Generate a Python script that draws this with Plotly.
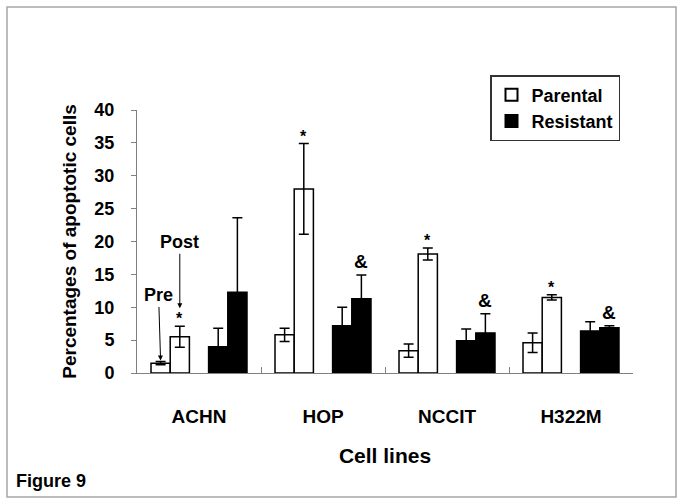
import plotly.graph_objects as go

categories = ["ACHN", "HOP", "NCCIT", "H322M"]
parental_pre = [1.5, 5.8, 3.4, 4.6]
parental_pre_err = [0.25, 1.0, 1.0, 1.5]
parental_post = [5.5, 28.0, 18.1, 11.5]
parental_post_err = [1.6, 6.9, 0.9, 0.4]
resistant_pre = [4.0, 7.2, 4.9, 6.4]
resistant_pre_err = [2.8, 2.8, 1.8, 1.4]
resistant_post = [12.3, 11.3, 6.1, 6.9]
resistant_post_err = [11.3, 3.6, 2.9, 0.3]
star_marks = ["*", "*", "*", "*"]
amp_marks = ["", "&", "&", "&"]
y_ticks = [0, 5, 10, 15, 20, 25, 30, 35, 40]

W, H = 683, 502
ML, MR, MT, MB = 137, 50, 110, 129
PW, PH = W - ML - MR, H - MT - MB
BARGAP = 0.226
NSLOT = 5
cat_px = PW / len(categories)
slot_px = cat_px * (1 - BARGAP) / NSLOT

SANS = "Liberation Sans, Arial"


def px2paper_x(px):
    return (px - ML) / PW


def px2paper_y(py):
    return (H - MB - py) / PH


fig = go.Figure()


def err(arr):
    return dict(type="data", array=arr, symmetric=True, color="black",
                thickness=1.5, width=5, visible=True)


fig.add_trace(go.Bar(x=categories, y=parental_pre, name="Parental",
                     legendgroup="P", showlegend=True,
                     marker=dict(color="white", line=dict(color="black", width=1.5)),
                     error_y=err(parental_pre_err)))
fig.add_trace(go.Bar(x=categories, y=parental_post, name="Parental",
                     legendgroup="P", showlegend=False,
                     marker=dict(color="white", line=dict(color="black", width=1.5)),
                     error_y=err(parental_post_err)))
fig.add_trace(go.Bar(x=categories, y=[None] * len(categories), name="gap",
                     showlegend=False, hoverinfo="skip",
                     marker=dict(color="rgba(0,0,0,0)", line=dict(width=0))))
fig.add_trace(go.Bar(x=categories, y=resistant_pre, name="Resistant",
                     legendgroup="R", showlegend=True,
                     marker=dict(color="black", line=dict(color="black", width=1.5)),
                     error_y=err(resistant_pre_err)))
fig.add_trace(go.Bar(x=categories, y=resistant_post, name="Resistant",
                     legendgroup="R", showlegend=False,
                     marker=dict(color="black", line=dict(color="black", width=1.5)),
                     error_y=err(resistant_post_err)))

annotations = []
for i, c in enumerate(categories):
    if star_marks[i]:
        annotations.append(dict(x=c, y=parental_post[i] + parental_post_err[i],
                                xref="x", yref="y", text="<b>" + star_marks[i] + "</b>",
                                showarrow=False,
                                xshift=-slot_px, yanchor="bottom", yshift=-3,
                                font=dict(family=SANS, size=16, color="black")))
    if amp_marks[i]:
        annotations.append(dict(x=c, y=resistant_post[i] + resistant_post_err[i],
                                xref="x", yref="y", text="<b>" + amp_marks[i] + "</b>",
                                showarrow=False,
                                xshift=2 * slot_px, yanchor="bottom", yshift=1,
                                font=dict(family=SANS, size=19, color="black")))

# Pre / Post pointers
annotations.append(dict(x=categories[0], y=parental_pre[0] + parental_pre_err[0],
                        xref="x", yref="y", text="<b>Pre</b>", showarrow=True,
                        arrowhead=2, arrowsize=1, arrowwidth=1, arrowcolor="black",
                        ax=-2, ay=-66, standoff=1, xshift=-2 * slot_px,
                        font=dict(family=SANS, size=18, color="black")))
annotations.append(dict(x=categories[0], y=parental_post[0] + parental_post_err[0],
                        xref="x", yref="y", text="<b>Post</b>", showarrow=True,
                        arrowhead=2, arrowsize=1, arrowwidth=1, arrowcolor="black",
                        ax=0, ay=-84, standoff=18, xshift=-slot_px,
                        font=dict(family=SANS, size=18, color="black")))

annotations.append(dict(x=px2paper_x(14), y=px2paper_y(481), xref="paper", yref="paper",
                        text="<b>Figure 9</b>", showarrow=False, xanchor="left",
                        yanchor="middle", font=dict(family=SANS, size=18, color="black")))

shapes = [dict(type="rect", xref="paper", yref="paper",
               x0=px2paper_x(7), x1=px2paper_x(676),
               y0=px2paper_y(497), y1=px2paper_y(7),
               line=dict(color="#a6a6a6", width=1.5), fillcolor="rgba(0,0,0,0)", layer="below")]

fig.update_layout(
    width=W, height=H,
    margin=dict(l=ML, r=MR, t=MT, b=MB),
    paper_bgcolor="white", plot_bgcolor="white",
    barmode="group", bargap=BARGAP, bargroupgap=0,
    showlegend=True,
    legend=dict(x=px2paper_x(490), y=px2paper_y(75), xanchor="left", yanchor="top",
                bgcolor="white", bordercolor="#333333", borderwidth=1.5,
                font=dict(family=SANS, size=18, color="black", weight="bold"),
                traceorder="normal", entrywidth=126, entrywidthmode="pixels",
                itemsizing="constant", tracegroupgap=7),
    annotations=annotations,
    shapes=shapes,
    xaxis=dict(type="category", showline=True, linecolor="#808080", linewidth=1,
               ticks="inside", tickson="boundaries", ticklen=6, tickcolor="#808080",
               tickfont=dict(family=SANS, size=19, color="black", weight="bold"),
               ticklabelstandoff=26, showgrid=False,
               title=dict(text="<b>Cell lines</b>", standoff=22,
                          font=dict(family=SANS, size=21, color="black"))),
    yaxis=dict(range=[0, 40], tickvals=y_ticks, showline=True, linecolor="#808080",
               linewidth=1, ticks="outside", ticklen=5, tickcolor="#808080",
               tickfont=dict(family=SANS, size=18, color="black", weight="bold"),
               ticklabelstandoff=13, showgrid=False, zeroline=False,
               title=dict(text="<b>Percentages of apoptotic cells</b>", standoff=12,
                          font=dict(family=SANS, size=19, color="black"))),
)

fig.write_html("out.html", post_script="document.body.style.margin='0';",
               config={"displayModeBar": False})
